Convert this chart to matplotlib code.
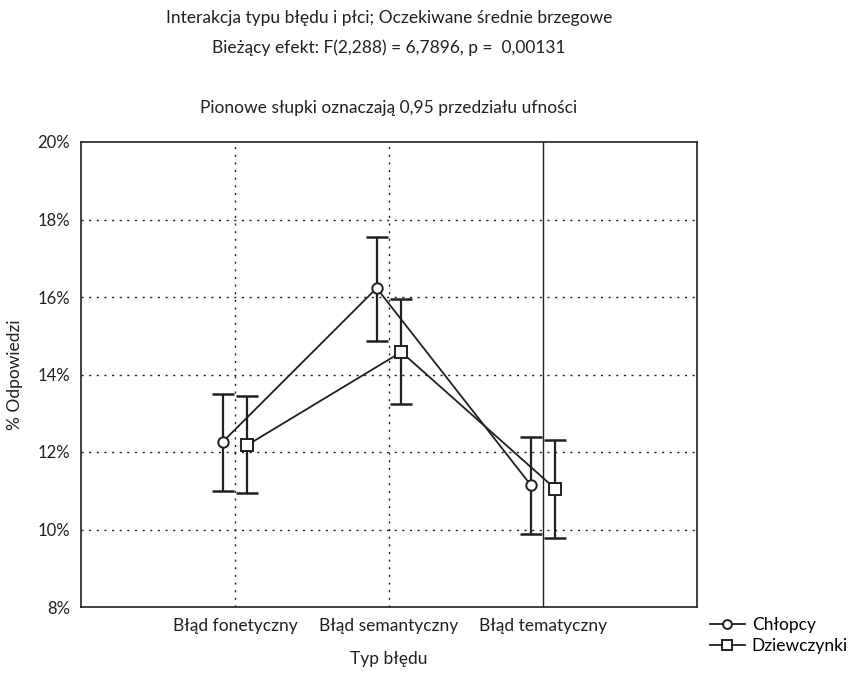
import numpy as np
import matplotlib.pyplot as plt

plt.rcParams['font.family'] = ['Lato', 'DejaVu Sans']

categories = ['Błąd fonetyczny', 'Błąd semantyczny', 'Błąd tematyczny']
chlopcy = [12.26, 16.23, 11.15]
chlopcy_lo = [11.00, 14.86, 9.88]
chlopcy_hi = [13.50, 17.55, 12.39]
dziewczynki = [12.18, 14.58, 11.05]
dziewczynki_lo = [10.94, 13.24, 9.78]
dziewczynki_hi = [13.45, 15.95, 12.31]

col = '#231f20'
fs = 12.5
fig = plt.figure(figsize=(8.5, 6.78), dpi=100)
ax = fig.add_axes([81/850, 1-607/678, 616/850, 465/678])

x = np.arange(len(categories))
off = 0.08

# wszystkie serie z przedzialami ufnosci
for xs, y, lo, hi, mk, ms, lab in [
        (x - off, chlopcy, chlopcy_lo, chlopcy_hi, 'o', 7.5, 'Chłopcy'),
        (x + off, dziewczynki, dziewczynki_lo, dziewczynki_hi, 's', 9, 'Dziewczynki')]:
    y = np.array(y)
    err = [y - np.array(lo), np.array(hi) - y]
    ax.errorbar(xs, y, yerr=err, fmt='none', ecolor=col, elinewidth=1.6,
                capsize=8, capthick=1.8, zorder=2)
    ax.plot(xs, y, color=col, lw=1.3, marker=mk, ms=ms, mfc='white',
            mec=col, mew=1.4, label=lab, zorder=3)

ax.set_xlim(-1.0, 3.0)
ax.set_ylim(8, 20)
ax.set_yticks(np.arange(8, 21, 2))
ax.set_yticklabels([f'{v}%' for v in range(8, 21, 2)])
ax.set_xticks(x)
ax.set_xticklabels(categories)
ax.tick_params(length=0, labelsize=fs, colors=col, pad=8)
ax.tick_params(axis='y', labelsize=12)

for v in range(10, 20, 2):
    ax.axhline(v, color=col, lw=1, ls=(0, (1.5, 4)), zorder=1)
for v in x[:2]:
    ax.axvline(v, color=col, lw=1, ls=(0, (1.5, 4)), zorder=1)
ax.axvline(x[2], color=col, lw=1, zorder=1)

for s in ax.spines.values():
    s.set_color(col)
    s.set_linewidth(1.2)

ax.set_xlabel('Typ błędu', fontsize=fs, color=col, labelpad=12)
ax.set_ylabel('% Odpowiedzi', fontsize=fs, color=col, labelpad=10)

cx = (81 + 697) / 2 / 850
fig.text(cx, 1-18/678, 'Interakcja typu błędu i płci; Oczekiwane średnie brzegowe',
         ha='center', va='center', fontsize=fs, color=col)
fig.text(cx, 1-48/678, 'Bieżący efekt: F(2,288) = 6,7896, p =  0,00131',
         ha='center', va='center', fontsize=fs, color=col)
fig.text(cx, 1-108/678, 'Pionowe słupki oznaczają 0,95 przedziału ufności',
         ha='center', va='center', fontsize=fs, color=col)

fig.legend(loc='upper left', bbox_to_anchor=(710/850, 1-617/678), frameon=False,
           fontsize=fs, handlelength=2.0, handletextpad=0.4, labelspacing=0.3,
           borderaxespad=0, borderpad=0, markerscale=0.85)

fig.savefig('out.png', dpi=100)
